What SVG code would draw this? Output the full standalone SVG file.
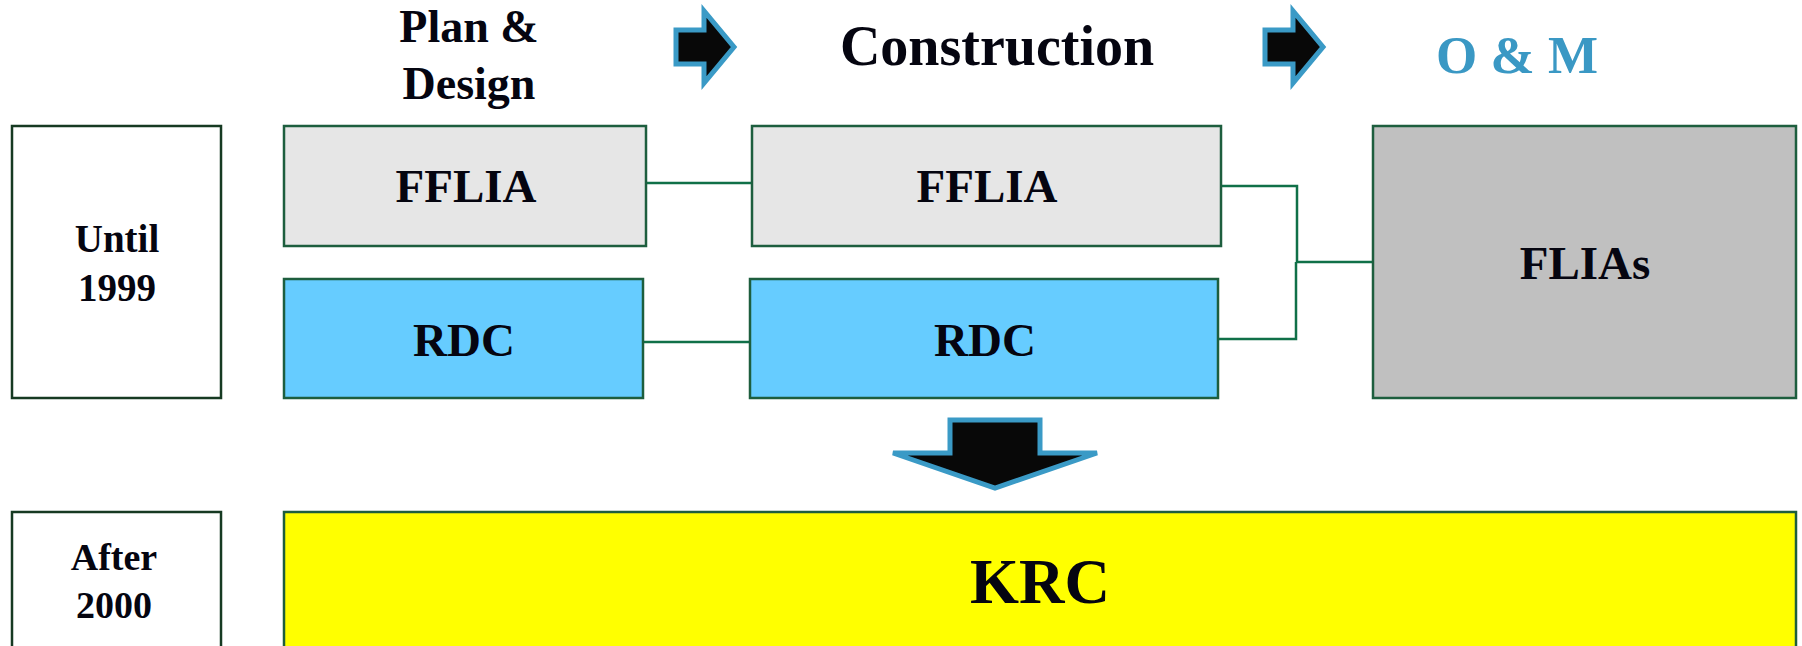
<svg xmlns="http://www.w3.org/2000/svg" width="1802" height="646" viewBox="0 0 1802 646">
<style>
  text { font-family: "Liberation Serif", "Times New Roman", serif; font-weight: bold; text-anchor: middle; fill: #050510; }
  .box { stroke: #1d5e3e; stroke-width: 2.5; }
  .conn { fill: none; stroke: #107048; stroke-width: 2.5; }
  .arrow { fill: #080808; stroke: #3a9ac6; stroke-width: 5; stroke-linejoin: miter; }
</style>
<rect width="1802" height="646" fill="#ffffff"/>

<g id="headers">
  <text x="469" y="42" font-size="46">Plan &amp;</text>
  <text x="469" y="99" font-size="46">Design</text>
  <text x="997" y="65" font-size="56">Construction</text>
  <text x="1517" y="73" font-size="53" style="fill:#3a98c4">O &amp; M</text>
</g>

<g id="stage-arrows">
  <polygon class="arrow" points="676,30 704,30 704,11 734,47 704,83 704,64 676,64"/>
  <polygon class="arrow" points="1265,30 1293,30 1293,11 1323,47 1293,83 1293,64 1265,64"/>
  <polygon class="arrow" points="950,420 1040,420 1040,453 1097,453 995,488 893,453 950,453"/>
</g>

<g id="connectors">
  <line class="conn" x1="646" y1="183" x2="752" y2="183"/>
  <line class="conn" x1="643" y1="342" x2="750" y2="342"/>
  <polyline class="conn" points="1221,186 1297,186 1297,262 1373,262"/>
  <polyline class="conn" points="1218,339 1296,339 1296,262"/>
</g>

<g id="until-1999">
  <rect class="box" x="12" y="126" width="209" height="272" fill="#ffffff" style="stroke:#163a22"/>
  <text x="117" y="252" font-size="39">Until</text>
  <text x="117" y="301" font-size="39">1999</text>
</g>

<g id="fflia-plan">
  <rect class="box" x="284" y="126" width="362" height="120" fill="#e6e6e6"/>
  <text x="466" y="202" font-size="47">FFLIA</text>
</g>

<g id="rdc-plan">
  <rect class="box" x="284" y="279" width="359" height="119" fill="#66ccff"/>
  <text x="464" y="356" font-size="47">RDC</text>
</g>

<g id="fflia-construction">
  <rect class="box" x="752" y="126" width="469" height="120" fill="#e6e6e6"/>
  <text x="987" y="202" font-size="47">FFLIA</text>
</g>

<g id="rdc-construction">
  <rect class="box" x="750" y="279" width="468" height="119" fill="#66ccff"/>
  <text x="985" y="356" font-size="47">RDC</text>
</g>

<g id="flias">
  <rect class="box" x="1373" y="126" width="423" height="272" fill="#c0c0c0"/>
  <text x="1585" y="279" font-size="47">FLIAs</text>
</g>

<g id="after-2000">
  <rect class="box" x="12" y="512" width="209" height="150" fill="#ffffff" style="stroke:#163a22"/>
  <text x="114" y="570" font-size="38">After</text>
  <text x="114" y="618" font-size="38">2000</text>
</g>

<g id="krc">
  <rect class="box" x="284" y="512" width="1512" height="150" fill="#ffff00"/>
  <text x="1040" y="603" font-size="63">KRC</text>
</g>
</svg>
